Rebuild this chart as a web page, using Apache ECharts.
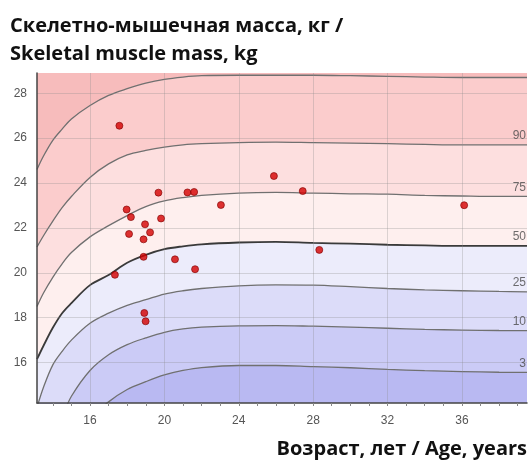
<!DOCTYPE html>
<html>
<head>
<meta charset="utf-8">
<title>Skeletal muscle mass</title>
<script src="https://cdn.jsdelivr.net/npm/echarts@6/dist/echarts.min.js"></script>
<style>
  html, body { margin: 0; padding: 0; background: #fff; }
  #chart { width: 528px; height: 461px; }
</style>
</head>
<body>
<div id="chart"></div>
<script>
// percentile curves (age in years -> kg)
const ages = [13.15, 13.5, 14, 14.5, 15, 16, 17, 18, 19, 20, 21, 22, 24, 26, 28, 30, 32, 34, 36, 38, 39.5]
const p97 = [24.6, 25.2, 25.9, 26.4, 26.85, 27.45, 27.9, 28.2, 28.45, 28.62, 28.72, 28.78, 28.8, 28.8, 28.8, 28.78, 28.75, 28.72, 28.7, 28.7, 28.7]
const p90 = [21.15, 21.65, 22.3, 22.9, 23.4, 24.25, 24.85, 25.25, 25.45, 25.6, 25.7, 25.75, 25.8, 25.82, 25.8, 25.78, 25.75, 25.72, 25.7, 25.7, 25.7]
const p75 = [18.5, 19.1, 19.8, 20.4, 20.9, 21.6, 22.1, 22.55, 22.95, 23.2, 23.35, 23.45, 23.55, 23.58, 23.55, 23.52, 23.5, 23.45, 23.42, 23.4, 23.4]
const p50 = [16.15, 16.75, 17.55, 18.2, 18.65, 19.45, 19.9, 20.45, 20.8, 21.05, 21.18, 21.27, 21.35, 21.38, 21.33, 21.3, 21.25, 21.22, 21.2, 21.2, 21.2]
const p25 = [14.0, 14.9, 15.9, 16.5, 17.0, 17.75, 18.2, 18.55, 18.8, 19.05, 19.2, 19.3, 19.42, 19.46, 19.45, 19.38, 19.3, 19.24, 19.2, 19.17, 19.15]
const p10 = [11.5, 12.1, 12.9, 13.6, 14.5, 15.65, 16.35, 16.8, 17.1, 17.35, 17.5, 17.58, 17.64, 17.65, 17.62, 17.58, 17.53, 17.48, 17.45, 17.43, 17.42]
const p3 = [9.5, 10.2, 11.0, 11.8, 12.5, 13.5, 14.25, 14.8, 15.15, 15.45, 15.65, 15.78, 15.87, 15.87, 15.82, 15.77, 15.7, 15.64, 15.6, 15.57, 15.56]

// subjects
const subjAge = [17.58, 19.68, 21.24, 21.6, 17.97, 18.2, 19.82, 18.96, 19.23, 18.1, 18.88,
  18.88, 20.57, 21.65, 17.34, 18.92, 18.99, 25.89, 27.44, 23.04, 28.33, 36.12]
const subjMass = [26.55, 23.57, 23.58, 23.6, 22.82, 22.48, 22.42, 22.16, 21.8, 21.73, 21.49,
  20.71, 20.6, 20.16, 19.91, 18.21, 17.84, 24.31, 23.64, 23.02, 21.02, 23.01]

const xTicks = [16, 20, 24, 28, 32, 36]
const xMinorTicks = [14, 15, 16, 17, 18, 19, 20, 21, 22, 23, 24, 25, 26, 27, 28, 29, 30, 31, 32, 33, 34, 35, 36, 37, 38, 39]
const yTicks = [16, 18, 20, 22, 24, 26, 28]

// top to bottom: each curve fills down to the axis with the colour of the band below it
const curves = [
  { name: '97', values: p97, fill: '#fbcccc', label: false },
  { name: '90', values: p90, fill: '#fddfdf', label: true },
  { name: '75', values: p75, fill: '#feefee', label: true },
  { name: '50', values: p50, fill: '#ececfb', label: true },
  { name: '25', values: p25, fill: '#dcdcf9', label: true },
  { name: '10', values: p10, fill: '#cbcbf6', label: true },
  { name: '3', values: p3, fill: '#b9b9f2', label: true }
]

const X_MIN = 13.15
const X_MAX = 39.5
const gridBox = { left: 37, right: 1, top: 73, bottom: 58 }

const chart = echarts.init(document.getElementById('chart'), null, { renderer: 'canvas' })

const series = []
curves.forEach(c => {
  series.push({
    type: 'line',
    name: c.name,
    xAxisIndex: 0,
    yAxisIndex: 0,
    data: ages.map((a, i) => [a, c.values[i]]),
    smooth: 0.35,
    symbol: 'none',
    silent: true,
    z: 2,
    lineStyle: {
      color: c.name === '50' ? '#3a3a3a' : '#707070',
      width: c.name === '50' ? 1.8 : 1.3
    },
    areaStyle: {
      origin: 'start',
      color: c.fill,
      opacity: 1
    }
  })
})

// percentile labels at the right end of each curve
series.push({
  type: 'scatter',
  name: 'labels',
  xAxisIndex: 0,
  yAxisIndex: 0,
  symbolSize: 0,
  silent: true,
  z: 6,
  data: curves.filter(c => c.label).map(c => ({
    value: [ages[ages.length - 1], c.values[c.values.length - 1]],
    name: c.name
  })),
  label: {
    show: true,
    formatter: '{b}',
    position: 'left',
    distance: 1,
    offset: [0, -9],
    color: '#4a4a4a',
    fontSize: 12,
    fontFamily: 'Liberation Sans, Arial, sans-serif'
  }
})

series.push({
  type: 'scatter',
  name: 'subjects',
  xAxisIndex: 0,
  yAxisIndex: 0,
  symbolSize: 7,
  z: 7,
  itemStyle: {
    color: '#d40000',
    borderColor: '#800000',
    borderWidth: 0.8
  },
  data: subjAge.map((a, i) => [a, subjMass[i]])
})

chart.setOption({
  animation: false,
  backgroundColor: '#ffffff',
  title: [
    {
      text: 'Скелетно-мышечная масса, кг /\nSkeletal muscle mass, kg',
      left: 5,
      top: 7,
      textStyle: {
        fontFamily: 'Open Sans, Noto Sans, sans-serif',
        fontWeight: 'bold',
        fontSize: 20,
        lineHeight: 28,
        color: '#111'
      }
    },
    {
      text: 'Возраст, лет / Age, years',
      right: -4,
      top: 434,
      textStyle: {
        fontFamily: 'Open Sans, Noto Sans, sans-serif',
        fontWeight: 'bold',
        fontSize: 20,
        color: '#111'
      }
    }
  ],
  grid: [
    Object.assign({}, gridBox, { backgroundColor: '#f7bcbc', show: true, borderWidth: 0 }),
    Object.assign({}, gridBox)
  ],
  xAxis: [
    {
      type: 'value',
      gridIndex: 0,
      min: X_MIN,
      max: X_MAX,
      z: 4,
      axisLine: { show: true, onZero: false, lineStyle: { color: '#444', width: 1.5 } },
      axisTick: { show: false, customValues: xTicks },
      axisLabel: {
        customValues: xTicks,
        color: '#555',
        fontSize: 12,
        margin: 12,
        fontFamily: 'Liberation Sans, Arial, sans-serif'
      },
      splitLine: { show: true, lineStyle: { color: 'rgba(140,140,140,0.3)', width: 1 } }
    },
    {
      type: 'value',
      gridIndex: 1,
      min: X_MIN,
      max: X_MAX,
      z: 4,
      axisLine: { show: false, onZero: false },
      axisTick: { show: true, customValues: xMinorTicks, length: 3, lineStyle: { color: '#888' } },
      axisLabel: { show: false },
      splitLine: { show: false }
    }
  ],
  yAxis: [
    {
      type: 'value',
      gridIndex: 0,
      min: 14.2,
      max: 28.9,
      z: 4,
      axisLine: { show: true, onZero: false, lineStyle: { color: '#444', width: 1.5 } },
      axisTick: { show: false, customValues: yTicks },
      axisLabel: {
        customValues: yTicks,
        color: '#555',
        fontSize: 12,
        margin: 10,
        fontFamily: 'Liberation Sans, Arial, sans-serif'
      },
      splitLine: { show: true, lineStyle: { color: 'rgba(140,140,140,0.3)', width: 1 } }
    },
    {
      type: 'value',
      gridIndex: 1,
      min: 14.2,
      max: 28.9,
      show: false
    }
  ],
  series: series
})
</script>
</body>
</html>
